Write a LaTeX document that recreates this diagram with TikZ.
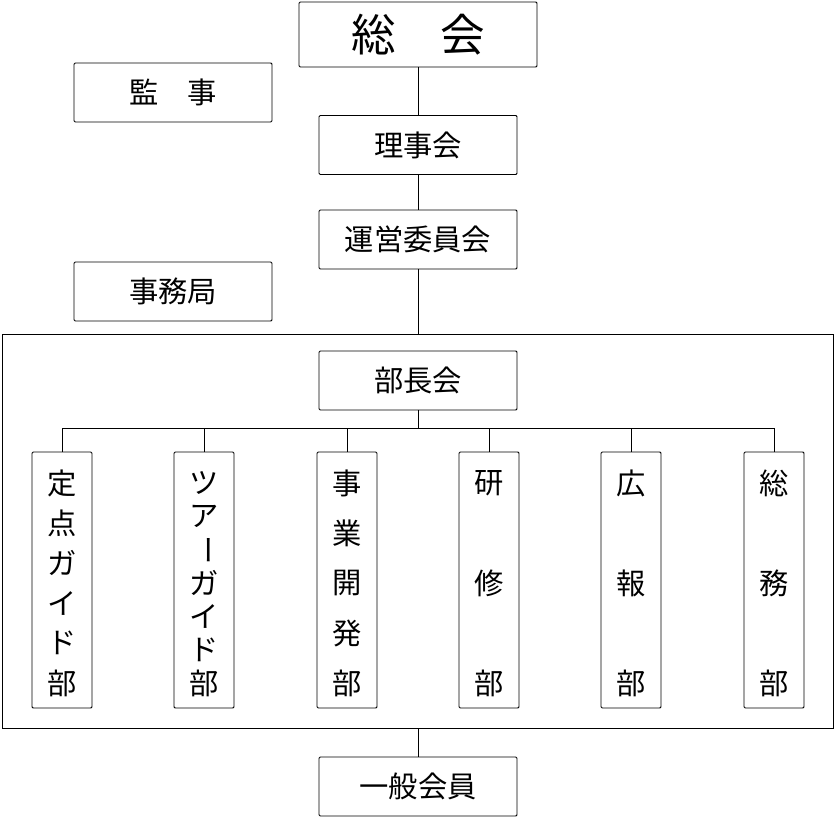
\documentclass[tikz,border=0pt]{standalone}
\usepackage{fontspec}
\setmainfont{Noto Sans CJK JP}
\tikzset{
  box/.style={draw, rounded corners=1pt, minimum width=5.94cm, minimum height=1.77cm, font=\fontsize{25}{25}\selectfont, inner sep=0pt},
  vbox/.style={draw, rounded corners=1pt, minimum width=1.8cm, minimum height=7.68cm, inner sep=0pt},
  vchar/.style={font=\fontsize{25}{25}\selectfont, inner sep=0pt}
}
\begin{document}
\begin{tikzpicture}[x=0.03cm, y=-0.03cm, line width=0.8pt]
	\useasboundingbox (0,0) rectangle (835,818);
	\node[box, minimum width=7.14cm, minimum height=1.95cm, font=\fontsize{38}{38}\selectfont] (sokai) at (418,34.5) {総\hspace{1em}会};
	\node[box] (kanji) at (173,92.5) {監\hspace{1em}事};
	\node[box] (rijikai) at (418,145) {理事会};
	\node[box] (unei) at (418,239.5) {運営委員会};
	\node[box] (jimu) at (173,291.5) {事務局};
	\draw (2,334) rectangle (833,728);
	\coordinate (ftop) at (418,334);
	\coordinate (fbot) at (418,728);
	\node[box] (buchokai) at (418,380.5) {部長会};
	\node[box] (ippan) at (418,786.5) {一般会員};
	\draw (sokai) -- (rijikai) -- (unei) -- (ftop);
	\draw (fbot) -- (ippan);
	% departments
	\coordinate (bus) at (418,428);
	\draw (buchokai) -- (bus);
	\draw (62,428) -- (774,428);
	\foreach \x/\n/\chars in {62/7/{定,点,ガ,イ,ド,部},204/8/{ツ,ア,\rotatebox{-90}{ー},ガ,イ,ド,部},347/6/{事,業,開,発,部},489/4/{研,修,部},631/4/{広,報,部},774/4/{総,務,部}} {
		\node[vbox] (dep\x) at (\x,580) {};
		\draw (\x,428) -- (dep\x.north);
		\foreach \c [count=\i] in \chars {
			\node[vchar] at (\x,{483+(\i-1)*200/(\n-2)}) {\c};
		}
	}
\end{tikzpicture}
\end{document}
